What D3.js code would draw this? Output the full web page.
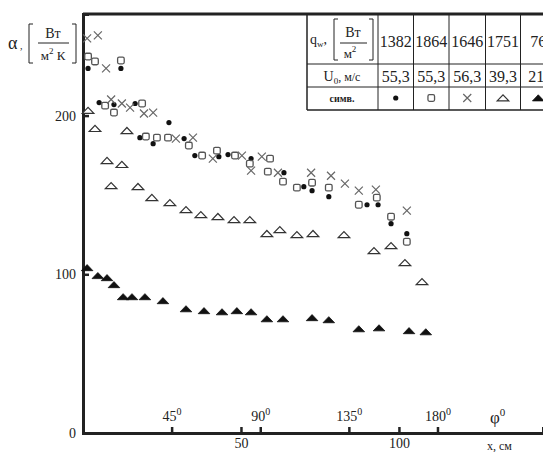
<!DOCTYPE html>
<html>
<head>
<meta charset="utf-8">
<script src="https://cdn.jsdelivr.net/npm/d3@7"></script>
<style>
  body { margin: 0; background: #fff; }
  svg { display: block; font-family: "Liberation Serif", "DejaVu Serif", serif; }
  .axis path, .axis line { stroke: #222; }
  .axis text { font-family: "Liberation Serif", serif; fill: #222; }
</style>
</head>
<body>
<svg width="543" height="452"></svg>
<script>
// alpha vs x, five runs (q_w = 1382, 1864, 1646, 1751, 76..)
const dots = [[1.6,229.7],[12.0,229.7],[5.1,208.2],[9.8,206.9],[16.5,207.6],[18.0,186.1],[22.2,182.3],[27.2,195.6],[32.0,185.5],[35.4,174.8],[43.0,174.1],[45.9,175.4],[53.2,172.9],[63.6,164.0],[69.9,155.2],[72.5,152.7],[77.8,148.9],[89.9,143.8],[93.4,143.8],[97.5,131.9],[102.5,125.6]];
const squares = [[1.6,237.2],[3.8,234.1],[12.0,234.7],[7.0,206.3],[9.8,201.9],[18.7,207.6],[19.9,186.8],[23.4,186.1],[26.9,186.1],[33.5,181.1],[37.7,174.8],[42.4,177.9],[48.1,174.8],[52.8,169.7],[59.2,172.9],[58.5,164.7],[63.3,158.4],[67.7,154.6],[72.5,157.7],[77.8,154.6],[87.3,143.8],[93.0,148.3],[97.5,136.3],[102.5,120.5]];
const crosses = [[1.3,248.6],[4.7,250.5],[7.3,229.7],[8.9,210.1],[12.3,207.6],[14.9,205.0],[19.3,201.3],[22.2,201.9],[29.4,185.5],[34.8,186.1],[41.1,172.9],[50.3,174.8],[56.6,174.1],[53.2,165.3],[61.7,164.0],[72.2,164.0],[78.5,162.1],[82.9,157.1],[87.3,152.7],[92.7,153.3],[102.5,140.1]];
const openTri = [[1.6,203.2],[3.8,191.8],[13.9,190.5],[7.6,171.6],[12.3,169.1],[8.9,155.8],[17.4,155.2],[21.8,148.3],[27.5,145.1],[32.6,140.7],[37.3,137.5],[42.7,136.3],[47.8,134.4],[52.8,134.4],[58.2,125.6],[62.3,128.1],[67.7,124.9],[72.8,125.6],[82.6,124.9],[92.1,114.8],[97.5,118.0],[101.9,107.3],[107.3,95.3]];
const fillTri = [[1.3,104.1],[4.7,99.1],[7.6,97.8],[9.8,93.4],[12.7,85.8],[15.5,85.8],[19.6,85.8],[25.3,83.3],[32.6,78.2],[38.3,77.0],[44.0,76.3],[48.7,77.0],[53.2,76.3],[58.2,71.9],[63.3,71.9],[72.5,72.6],[77.8,71.3],[87.3,65.6],[93.7,66.2],[103.2,64.4],[108.5,63.7]];

const qw = ["1382", "1864", "1646", "1751", "76"];
const u0 = ["55,3", "55,3", "56,3", "39,3", "21,"];
const yTicks = [0, 100, 200];
const xTicks = [50, 100];
const phiTicks = [45, 90, 135, 180];

const svg = d3.select("svg");
const x = d3.scaleLinear().domain([0, 145.6]).range([83, 543]);
const y = d3.scaleLinear().domain([0, 264]).range([433, 14]);
const phi = d3.scaleLinear().domain([0, 180]).range([x(0), x(112.2)]);

// frame: left, bottom, top
svg.append("line").attr("x1", 83).attr("x2", 543).attr("y1", 14).attr("y2", 14)
  .attr("stroke", "#222").attr("stroke-width", 3);

const gy = svg.append("g").attr("class", "axis")
  .attr("transform", "translate(83,0)")
  .call(d3.axisLeft(y).tickValues(yTicks).tickSize(-6).tickPadding(7).tickFormat(d3.format("d")));
gy.select(".domain").attr("stroke-width", 3);
gy.selectAll("line").attr("stroke-width", 2.5);
gy.selectAll("text").style("font-size", "14px");

const gx = svg.append("g").attr("class", "axis")
  .attr("transform", "translate(0,433)")
  .call(d3.axisBottom(x).tickValues(xTicks).tickSize(-6).tickPadding(5));
gx.select(".domain").attr("stroke-width", 3);
gx.selectAll("line").attr("stroke-width", 2.5);
gx.selectAll("text").style("font-size", "14px");

const gp = svg.append("g").attr("class", "axis")
  .attr("transform", "translate(0,433)")
  .call(d3.axisTop(phi).tickValues(phiTicks).tickSize(6).tickPadding(6).tickFormat(""));
gp.select(".domain").remove();
gp.selectAll("line").attr("stroke-width", 2.5);
gp.selectAll(".tick").append("text")
  .attr("y", -12).attr("text-anchor", "middle").attr("fill", "#222")
  .style("font-size", "14px")
  .call(t => {
    t.append("tspan").text(d => d);
    t.append("tspan").attr("dy", -6).style("font-size", "10px").text("0");
  });

// axis titles
const phiLab = svg.append("text").attr("x", 490).attr("y", 423).attr("fill", "#222").style("font-size", "17px");
phiLab.append("tspan").text("φ");
phiLab.append("tspan").attr("dy", -7).style("font-size", "11px").text("0");
svg.append("text").attr("x", 487).attr("y", 450).attr("fill", "#222").style("font-size", "12px").text("x, см");

// y title: α, [Вт / м²К]
function bracket(g, x0, y0, y1, dir) {
  g.append("path")
    .attr("d", `M${x0 + 4 * dir},${y0}H${x0}V${y1}H${x0 + 4 * dir}`)
    .attr("fill", "none").attr("stroke", "#222").attr("stroke-width", 1);
}
const yl = svg.append("g").attr("fill", "#222");
yl.append("text").attr("x", 8).attr("y", 49).style("font-size", "18px").text("α");
yl.append("text").attr("x", 20).attr("y", 49).style("font-size", "10px").text(",");
bracket(yl, 29, 24, 63, 1);
bracket(yl, 76, 24, 63, -1);
yl.append("text").attr("x", 53).attr("y", 38).attr("text-anchor", "middle").style("font-size", "14px").text("Вт");
yl.append("line").attr("x1", 38).attr("x2", 69).attr("y1", 43).attr("y2", 43).attr("stroke", "#222");
const mk = yl.append("text").attr("x", 53).attr("y", 60).attr("text-anchor", "middle").style("font-size", "13px");
mk.append("tspan").text("м");
mk.append("tspan").attr("dy", -6).style("font-size", "9px").text("2");
mk.append("tspan").attr("dy", 6).text(" К");

// table
const tab = svg.append("g");
const colX = [307, 378, 413.5, 449, 485.5, 520.5, 556];
const rowY = [14, 64, 87, 110];
rowY.slice(1).forEach(r => tab.append("line").attr("x1", 307).attr("x2", 543).attr("y1", r).attr("y2", r)
  .attr("stroke", "#222").attr("stroke-width", r === 110 ? 1.5 : 1));
colX.slice(0, 6).forEach((c, i) => tab.append("line").attr("x1", c).attr("x2", c).attr("y1", 14).attr("y2", 110)
  .attr("stroke", "#222").attr("stroke-width", i === 0 ? 1.5 : 1));

const hd = tab.append("g").attr("fill", "#222");
const qt = hd.append("text").attr("x", 310).attr("y", 44).style("font-size", "14px");
qt.append("tspan").text("q");
qt.append("tspan").attr("dy", 3).style("font-size", "9px").text("w");
qt.append("tspan").attr("dy", -3).text(",");
bracket(hd, 334, 19, 60, 1);
bracket(hd, 373, 19, 60, -1);
hd.append("text").attr("x", 353).attr("y", 37).attr("text-anchor", "middle").style("font-size", "14px").text("Вт");
hd.append("line").attr("x1", 340).attr("x2", 367).attr("y1", 43).attr("y2", 43).attr("stroke", "#222");
const m2 = hd.append("text").attr("x", 350).attr("y", 58).attr("text-anchor", "middle").style("font-size", "13px");
m2.append("tspan").text("м");
m2.append("tspan").attr("dy", -6).style("font-size", "9px").text("2");
const ut = hd.append("text").attr("x", 342).attr("y", 81).attr("text-anchor", "middle").style("font-size", "14px");
ut.append("tspan").text("U");
ut.append("tspan").attr("dy", 3).style("font-size", "9px").text("0");
ut.append("tspan").attr("dy", -3).style("font-size", "12px").text(", м/с");
hd.append("text").attr("x", 342).attr("y", 102).attr("text-anchor", "middle")
  .style("font-size", "10px").style("font-weight", "bold").text("симв.");

qw.forEach((v, i) => hd.append("text").attr("x", (colX[i + 1] + colX[i + 2]) / 2).attr("y", 47)
  .attr("text-anchor", "middle").style("font-size", "16px").text(v));
u0.forEach((v, i) => hd.append("text").attr("x", (colX[i + 1] + colX[i + 2]) / 2).attr("y", 82)
  .attr("text-anchor", "middle").style("font-size", "16px").text(v));

// marker drawers
const triPath = (cx, cy, s) => `M${cx - s},${cy + s * 0.5}L${cx},${cy - s * 0.55}L${cx + s},${cy + s * 0.5}Z`;
function drawDot(g, cx, cy) { g.append("circle").attr("cx", cx).attr("cy", cy).attr("r", 2.6).attr("fill", "#111"); }
function drawSq(g, cx, cy) {
  g.append("rect").attr("x", cx - 3.3).attr("y", cy - 3.3).attr("width", 6.6).attr("height", 6.6).attr("rx", 1.5)
    .attr("fill", "none").attr("stroke", "#555").attr("stroke-width", 1.3);
}
function drawX(g, cx, cy) {
  g.append("path").attr("d", `M${cx - 4},${cy - 4}L${cx + 4},${cy + 4}M${cx - 4},${cy + 4}L${cx + 4},${cy - 4}`)
    .attr("stroke", "#666").attr("stroke-width", 1.2);
}
function drawOT(g, cx, cy) {
  g.append("path").attr("d", triPath(cx, cy, 5.8)).attr("fill", "#fff").attr("stroke", "#333").attr("stroke-width", 1.2);
}
function drawFT(g, cx, cy) {
  g.append("path").attr("d", triPath(cx, cy, 5.8)).attr("fill", "#111").attr("stroke", "#111").attr("stroke-width", 0.8);
}
const series = [[dots, drawDot], [squares, drawSq], [crosses, drawX], [openTri, drawOT], [fillTri, drawFT]];

const marks = svg.append("g");
series.forEach(([data, fn]) => {
  const g = marks.append("g");
  data.forEach(d => fn(g, x(d[0]), y(d[1])));
});

// symbols in table row
series.forEach(([, fn], i) => fn(tab, (colX[i + 1] + colX[i + 2]) / 2, 98));
</script>
</body>
</html>
